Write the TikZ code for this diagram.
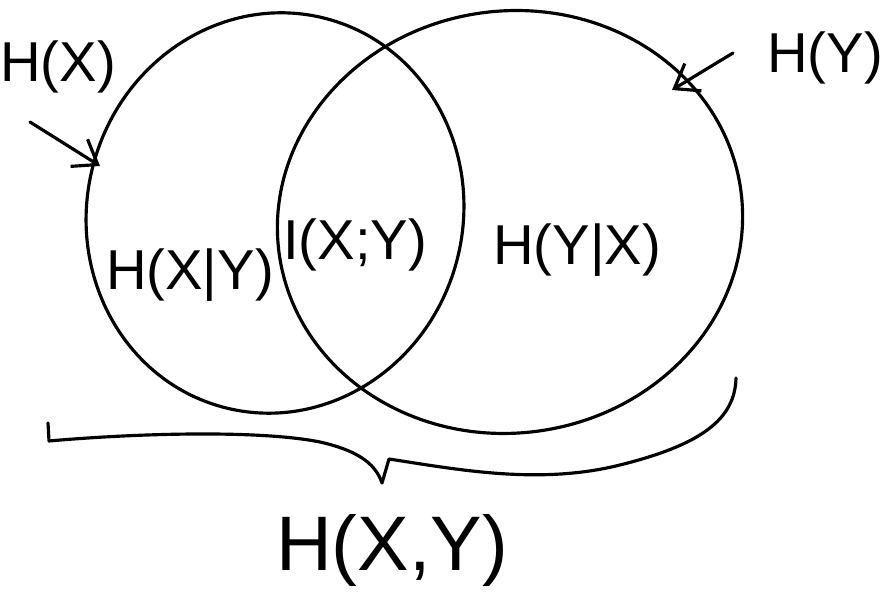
\documentclass[tikz,border=0pt]{standalone}
\usepackage{fontspec}
\setmainfont{Liberation Sans}
\usetikzlibrary{arrows.meta}
\tikzset{
  pen/.style={line width=0.9pt, draw=black, line cap=round, line join=round},
  pointer/.style={pen, -{Straight Barb[length=2.2mm, width=3.2mm]}},
  entropy label/.style={font=\fontsize{16}{18}\selectfont, inner sep=1pt},
  joint label/.style={font=\fontsize{22}{24}\selectfont, inner sep=1pt}
}
\begin{document}
\begin{tikzpicture}
  \useasboundingbox (0,0) rectangle (8.92,-5.93);
  % the two sets
  \draw[pen, rotate around={-15:(2.75,-2.13)}] (2.75,-2.13) ellipse (1.88 and 2.01);
  \draw[pen, rotate around={8:(5.10,-2.22)}] (5.10,-2.22) ellipse (2.33 and 2.11);

  % labels inside
  \node[entropy label] (hxy) at (1.90,-2.75) {H(X|Y)};
  \node[entropy label] (ixy) at (3.55,-2.45) {I(X;Y)};
  \node[entropy label] (hyx) at (5.77,-2.50) {H(Y|X)};

  % outer labels and pointers
  \node[entropy label] (hx) at (0.58,-0.67) {H(X)};
  \node[entropy label] (hy) at (8.25,-0.58) {H(Y)};
  \coordinate (hx tip) at (1.00,-1.66);
  \coordinate (hy tip) at (6.72,-0.90);
  \draw[pointer] (0.30,-1.22) -- (hx tip);
  \draw[pointer] (7.33,-0.53) -- (hy tip);

  % brace under both sets
  \coordinate (brace tip) at (3.82,-4.83);
  \draw[pen] (0.48,-4.23) -- (0.49,-4.41)
    .. controls (1.40,-4.33) and (2.60,-4.30) .. (3.20,-4.42)
    .. controls (3.55,-4.50) and (3.75,-4.62) .. (brace tip)
    -- (3.89,-4.59)
    .. controls (4.60,-4.70) and (5.40,-4.85) .. (6.20,-4.65)
    .. controls (7.00,-4.45) and (7.35,-4.20) .. (7.36,-3.78);
  \node[joint label] (hjoint) at (3.92,-5.50) {H(X,Y)};
\end{tikzpicture}
\end{document}
